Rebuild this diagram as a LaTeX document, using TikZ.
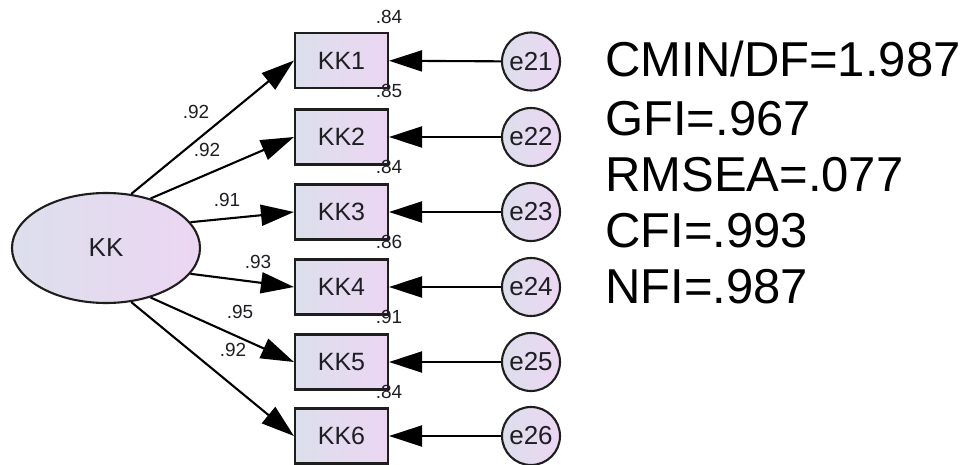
\documentclass[tikz,border=0pt]{standalone}
\usepackage{fontspec}
\setmainfont{Liberation Sans}
\usetikzlibrary{arrows.meta,shapes.geometric}
\definecolor{fillL}{RGB}{220,223,236}
\definecolor{fillR}{RGB}{236,214,242}
\definecolor{edge}{RGB}{30,30,30}
\definecolor{txt}{RGB}{30,30,35}
\tikzset{
  obs/.style={draw=edge, line width=2.1pt, rectangle, minimum width=93pt, minimum height=55pt, inner sep=0pt,
    left color=fillL, right color=fillR, font=\fontsize{25}{25}\selectfont, text=txt},
  lat/.style={draw=edge, line width=2.1pt, ellipse, minimum width=188pt, minimum height=110pt, inner sep=0pt,
    left color=fillL, right color=fillR, font=\fontsize{26}{26}\selectfont, text=txt},
  err/.style={draw=edge, line width=2.1pt, circle, minimum size=58pt, inner sep=0pt,
    left color=fillL, right color=fillR, font=\fontsize{26}{26}\selectfont, text=txt},
  arr/.style={draw=black, line width=2.1pt, -{Triangle[length=33pt,width=21pt]}},
  lbl/.style={inner sep=0pt, font=\fontsize{19}{19}\selectfont, text=txt},
  fit/.style={inner sep=0pt, anchor=base west, font=\fontsize{49}{49}\selectfont, text=black}
}
\begin{document}
\begin{tikzpicture}[x=1pt,y=-1pt]
\useasboundingbox (0,0) rectangle (963,465);
% latent
\node[lat] (kk) at (106,248) {KK};
% observed
\node[obs] (k1) at (341.5,60.5) {KK1};
\node[obs] (k2) at (341.5,137) {KK2};
\node[obs] (k3) at (341.5,212) {KK3};
\node[obs] (k4) at (341.5,287) {KK4};
\node[obs] (k5) at (341.5,362) {KK5};
\node[obs] (k6) at (341.5,436) {KK6};
% errors
\node[err] (e1) at (531,61.5) {e21};
\node[err] (e2) at (531,137) {e22};
\node[err] (e3) at (531,212) {e23};
\node[err] (e4) at (531,287) {e24};
\node[err] (e5) at (531,362) {e25};
\node[err] (e6) at (531,436) {e26};
% loadings
\draw[arr] (kk.65) -- (k1.west);
\draw[arr] (kk.48) -- (k2.west);
\draw[arr] (kk.17) -- (k3.west);
\draw[arr] (kk.-17) -- (k4.west);
\draw[arr] (kk.-48) -- (k5.west);
\draw[arr] (kk.-65) -- (k6.west);
% error paths
\draw[arr] (e1) -- (k1);
\draw[arr] (e2) -- (k2);
\draw[arr] (e3) -- (k3);
\draw[arr] (e4) -- (k4);
\draw[arr] (e5) -- (k5);
\draw[arr] (e6) -- (k6);
% path labels
\node[lbl] (l1) at (196,112) {.92};
\node[lbl] (l2) at (207,150) {.92};
\node[lbl] (l3) at (227,200) {.91};
\node[lbl] (l4) at (258,262) {.93};
\node[lbl] (l5) at (240,312) {.95};
\node[lbl] (l6) at (233,350) {.92};
% R-squared labels
\node[lbl] (r1) at (389,17) {.84};
\node[lbl] (r2) at (389,91) {.85};
\node[lbl] (r3) at (389,167) {.84};
\node[lbl] (r4) at (389,242) {.86};
\node[lbl] (r5) at (389,317) {.91};
\node[lbl] (r6) at (389,392) {.84};
% fit indices
\node[fit] (f1) at (605,77) {CMIN/DF=1.987};
\node[fit] (f2) at (605,136) {GFI=.967};
\node[fit] (f3) at (605,191) {RMSEA=.077};
\node[fit] (f4) at (605,247) {CFI=.993};
\node[fit] (f5) at (605,303) {NFI=.987};
\end{tikzpicture}
\end{document}
